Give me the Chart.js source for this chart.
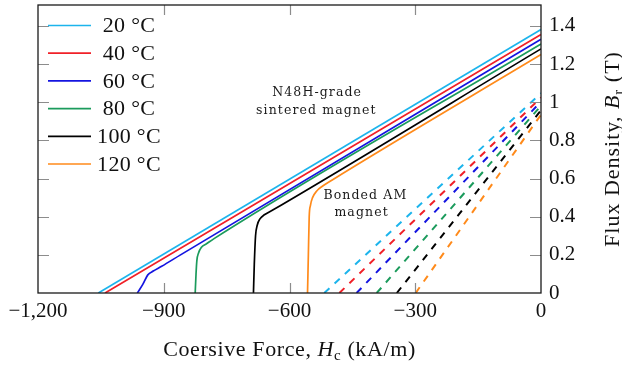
<!DOCTYPE html>
<html>
<head>
<meta charset="utf-8">
<script src="https://cdn.jsdelivr.net/npm/chart.js@4.4.0/dist/chart.umd.min.js"></script>
<style>
  html, body { margin: 0; padding: 0; background: #fff; }
</style>
</head>
<body>
<canvas id="myChart" width="622" height="365"></canvas>
<script>
// legend labels, one per temperature
const temps = ["20 \u00B0C", "40 \u00B0C", "60 \u00B0C", "80 \u00B0C", "100 \u00B0C", "120 \u00B0C"];
const lineColors = ["#1cb4ec", "#f02028", "#1414e0", "#1b9b5c", "#000000", "#ff8a1a"];

// N48H sintered magnet, [H (kA/m), B (T)]
const sintered20 = [[-1056, 0], [0, 1.381]];
const sintered40 = [[-1040, 0], [0, 1.355]];
const sintered60 = [[-963, 0], [-950, 0.045], [-938, 0.095], [-925, 0.115], [-905, 0.14], [-860, 0.2], [0, 1.331]];
const sintered80 = [[-825, 0], [-823, 0.1], [-821, 0.17], [-817, 0.21], [-810, 0.24], [-798, 0.258], [-780, 0.285], [0, 1.306]];
const sintered100 = [[-686, 0], [-684, 0.15], [-681, 0.3], [-677, 0.355], [-670, 0.39], [-660, 0.41], [-640, 0.435], [0, 1.28]];
const sintered120 = [[-557, 0], [-555, 0.2], [-553, 0.4], [-550, 0.46], [-545, 0.5], [-535, 0.535], [-520, 0.562], [-500, 0.59], [0, 1.25]];

// bonded AM magnet
const bonded20 = [[-517, 0], [0, 1.048]];
const bonded40 = [[-481, 0], [0, 1.025]];
const bonded60 = [[-440, 0], [0, 1.003]];
const bonded80 = [[-392, 0], [0, 0.982]];
const bonded100 = [[-344, 0], [0, 0.958]];
const bonded120 = [[-299, 0], [0, 0.935]];

const xTicks = [-1200, -900, -600, -300, 0];
const yTicks = [0, 0.2, 0.4, 0.6, 0.8, 1, 1.2, 1.4];

// text notes placed in data units
const notes = [
  { text: "N48H-grade", x: -534, y: 1.052 },
  { text: "sintered magnet", x: -536, y: 0.953 },
  { text: "Bonded AM", x: -419, y: 0.511 },
  { text: "magnet", x: -428, y: 0.42 },
];

const sintered = [sintered20, sintered40, sintered60, sintered80, sintered100, sintered120];
const bonded = [bonded20, bonded40, bonded60, bonded80, bonded100, bonded120];

const toXY = arr => arr.map(([x, y]) => ({ x: x, y: y }));
const serif = "'Liberation Serif', 'DejaVu Serif', serif";

const datasets = [];
sintered.forEach((d, i) => {
  datasets.push({
    label: temps[i],
    data: toXY(d),
    borderColor: lineColors[i],
    borderWidth: 1.7,
    pointRadius: 0,
    cubicInterpolationMode: "monotone",
  });
});
bonded.forEach((d, i) => {
  datasets.push({
    label: temps[i] + " bonded",
    data: toXY(d),
    borderColor: lineColors[i],
    borderWidth: 2,
    borderDash: [7, 7],
    pointRadius: 0,
  });
});

// frame, inward tick marks, legend, notes and axis titles
const decor = {
  id: "decor",
  afterDraw(chart) {
    const ctx = chart.ctx;
    const a = chart.chartArea;
    const xs = chart.scales.x;
    const ys = chart.scales.y;
    ctx.save();

    // tick marks
    ctx.strokeStyle = "#8c8c8c";
    ctx.lineWidth = 1.2;
    xTicks.forEach(v => {
      const px = Math.round(xs.getPixelForValue(v)) + 0.5;
      if (v === -1200 || v === 0) return;
      ctx.beginPath();
      ctx.moveTo(px, a.bottom); ctx.lineTo(px, a.bottom - 10);
      ctx.moveTo(px, a.top); ctx.lineTo(px, a.top + 10);
      ctx.stroke();
    });
    yTicks.forEach(v => {
      if (v === 0) return;
      const py = Math.round(ys.getPixelForValue(v)) + 0.5;
      ctx.beginPath();
      ctx.moveTo(a.left, py); ctx.lineTo(a.left + 11, py);
      ctx.moveTo(a.right, py); ctx.lineTo(a.right - 11, py);
      ctx.stroke();
    });

    // frame
    ctx.strokeStyle = "#1a1a1a";
    ctx.lineWidth = 1.3;
    ctx.strokeRect(a.left, a.top, a.right - a.left, a.bottom - a.top);

    // legend
    ctx.font = "22px " + serif;
    ctx.letterSpacing = "0.3px";
    ctx.textAlign = "center";
    ctx.textBaseline = "middle";
    temps.forEach((t, i) => {
      const y = a.top + 20.5 + i * 27.7;
      ctx.strokeStyle = lineColors[i];
      ctx.lineWidth = 1.7;
      ctx.beginPath();
      ctx.moveTo(a.left + 10, y); ctx.lineTo(a.left + 53, y);
      ctx.stroke();
      ctx.fillStyle = "#111";
      ctx.fillText(t, a.left + 91, y + 1);
    });

    // notes
    ctx.font = "12.5px 'DejaVu Serif', serif";
    ctx.letterSpacing = "1.1px";
    ctx.fillStyle = "#1a1a1a";
    notes.forEach(n => {
      ctx.fillText(n.text, xs.getPixelForValue(n.x), ys.getPixelForValue(n.y));
    });

    // axis titles with italic symbol and subscript
    const drawTitle = (parts, cx, cy, spacing) => {
      ctx.letterSpacing = spacing;
      const fonts = parts.map(p => p.sub ? "15px " + serif : (p.it ? "italic 22px " : "22px ") + serif);
      let total = 0;
      parts.forEach((p, i) => { ctx.font = fonts[i]; total += ctx.measureText(p.t).width; });
      let x = cx - total / 2;
      ctx.textAlign = "left";
      ctx.textBaseline = "alphabetic";
      ctx.fillStyle = "#111";
      parts.forEach((p, i) => {
        ctx.font = fonts[i];
        ctx.fillText(p.t, x, cy + (p.sub ? 4 : 0));
        x += ctx.measureText(p.t).width;
      });
    };
    drawTitle([{ t: "Coersive Force, " }, { t: "H", it: true }, { t: "c", sub: true }, { t: " (kA/m)" }],
      (a.left + a.right) / 2, 356, "0.6px");

    ctx.translate(619, (a.top + a.bottom) / 2);
    ctx.rotate(-Math.PI / 2);
    drawTitle([{ t: "Flux Density, " }, { t: "B", it: true }, { t: "r", sub: true }, { t: " (T)" }], 0, 0, "1px");

    ctx.restore();
  },
};

new Chart(document.getElementById("myChart"), {
  type: "line",
  data: { datasets: datasets },
  options: {
    responsive: false,
    animation: false,
    layout: { padding: { left: 38, top: 5, right: 0, bottom: 0 } },
    plugins: {
      legend: { display: false },
      tooltip: { enabled: false },
    },
    scales: {
      x: {
        type: "linear",
        position: "bottom",
        min: -1200,
        max: 0,
        afterBuildTicks: s => { s.ticks = xTicks.map(v => ({ value: v })); },
        afterFit: s => { s.height = 72; s.paddingLeft = 0; s.paddingRight = 0; },
        grid: { display: false, drawTicks: false },
        border: { display: false },
        ticks: {
          padding: 6,
          color: "#111",
          font: { family: serif, size: 21 },
          maxRotation: 0,
          callback: v => v < 0 ? "\u2212" + Math.abs(v).toLocaleString("en-US") : "0",
        },
      },
      y: {
        type: "linear",
        position: "right",
        min: 0,
        max: 1.51,
        afterBuildTicks: s => { s.ticks = yTicks.map(v => ({ value: v })); },
        afterFit: s => { s.width = 81; s.paddingTop = 0; s.paddingBottom = 0; },
        grid: { display: false, drawTicks: false },
        border: { display: false },
        ticks: {
          padding: 8,
          color: "#111",
          font: { family: serif, size: 21 },
          callback: v => String(Math.round(v * 10) / 10),
        },
      },
    },
  },
  plugins: [decor],
});
</script>
</body>
</html>
